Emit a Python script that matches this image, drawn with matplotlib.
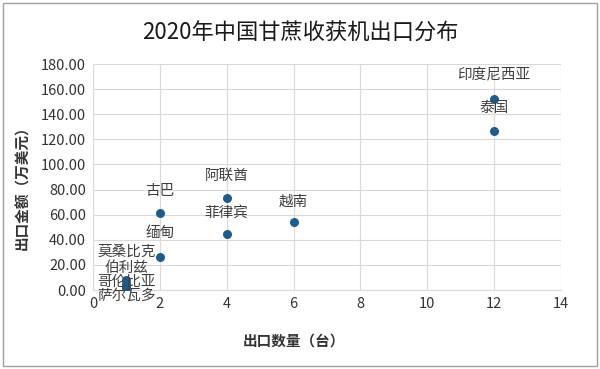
import matplotlib.pyplot as plt
from matplotlib.patches import Rectangle

plt.rcParams['font.family'] = ['Noto Sans CJK SC', 'DejaVu Sans']

# 数据
countries = ['印度尼西亚', '泰国', '阿联酋', '菲律宾', '越南', '古巴', '缅甸',
             '莫桑比克', '伯利兹', '哥伦比亚', '萨尔瓦多']
quantity = [12, 12, 4, 4, 6, 2, 2, 1, 1, 1, 1]
amount = [152, 127, 73, 45, 54, 61, 26, 8, 5, 2, 0.5]

# 标签偏移（像素）
label_dy = [24, 23, 22, 21, 21, 22, 24, 28, 16, 6, -6]

fig = plt.figure(figsize=(6, 3.69), dpi=100)
ax = fig.add_axes([93 / 600, 1 - 290 / 369, 468 / 600, 226 / 369])

ax.scatter(quantity, amount, s=30, color='#1f5c8c', zorder=3)
for name, x, y, dy in zip(countries, quantity, amount, label_dy):
    ax.annotate(name, (x, y), xytext=(0, dy), textcoords='offset pixels',
                ha='center', va='center', fontsize=10.5, color='#404040', zorder=4)

ax.set_xlim(0, 14)
ax.set_ylim(0, 180)
ax.set_xticks(range(0, 15, 2))
ax.set_yticks(range(0, 181, 20))
ax.set_yticklabels([f'{v:.2f}' for v in range(0, 181, 20)])
ax.grid(True, color='#d9d9d9', linewidth=0.8)
ax.set_axisbelow(True)
for s in ax.spines.values():
    s.set_visible(False)
ax.spines['bottom'].set_visible(True)
ax.spines['bottom'].set_color('#d9d9d9')
ax.tick_params(length=0, labelsize=10.5, colors='#333333', pad=5)

ax.set_xlabel('出口数量（台）', fontsize=10.5, fontweight='bold', color='#333333')
ax.xaxis.set_label_coords(0.43, -0.19)
ax.set_ylabel('出口金额（万美元）', fontsize=10.5, fontweight='bold', color='#333333')
ax.yaxis.set_label_coords(-0.135, 0.47)

fig.text(0.5, 1 - 33 / 369, '2020年中国甘蔗收获机出口分布', ha='center', va='center',
         fontsize=16, color='#1a1a1a')

fig.patches.append(Rectangle((0.005, 0.008), 0.99, 0.984, transform=fig.transFigure,
                             fill=False, edgecolor='#a0a0a0', linewidth=1))

fig.savefig('out.png', dpi=100)
